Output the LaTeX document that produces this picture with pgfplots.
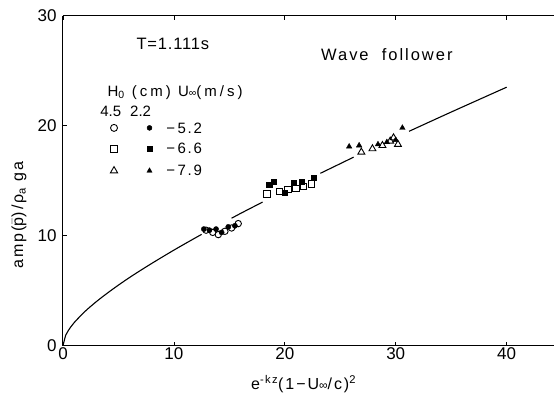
\documentclass[border=0pt]{standalone}
\usepackage{pgfplots}
\pgfplotsset{compat=1.18}
\usepackage{fontspec}
\setmainfont{Liberation Sans}
\newfontfamily\wide[LetterSpace=12]{Liberation Sans}
\newfontfamily\wider[LetterSpace=20]{Liberation Sans}
\newfontfamily\mildwide[LetterSpace=5]{Liberation Sans}
\begin{document}
\begin{tikzpicture}
\begin{axis}[name=ax, scale only axis, width=491pt, height=330pt,
  xmin=0, xmax=44.27, ymin=0, ymax=30,
  xtick={0,10,20,30,40}, ytick={0,10,20,30},
  axis y line*=left,
  axis line style={line width=1pt},
  major tick style={line width=0.8pt, black},
  major tick length=4pt,
  /pgf/number format/assume math mode=true,
  tick label style={font=\fontsize{17}{19}\selectfont},
  xticklabel style={yshift=2pt},
  yticklabel style={xshift=-3pt},
  xlabel={\wide e\textsuperscript{-kz}(1−U{\fontsize{12}{13}\selectfont ∞}/c)\textsuperscript{2}},
  ylabel={\wide amp($\bar{\hbox{p}}$)/ρ\textsubscript{a} ga},
  label style={font=\fontsize{16}{18}\selectfont},
  xlabel style={at={(axis description cs:0.49,0)}, anchor=base, yshift=-44pt},
  ylabel style={at={(axis description cs:0,0.396)}, anchor=center, yshift=44pt},
  clip=false,
]
% fitted curve, broken where the data points lie
\addplot[black, line width=1.1pt, no marks, smooth] coordinates {
(0,0) (0.25,0.97) (0.5,1.41) (1,2.09) (2,3.13) (3,4.00) (4,4.78) (5,5.51) (6,6.20) (7,6.85) (8,7.48) (9,8.09) (10,8.69) (11,9.27) (12,9.84) (12.5,10.12)};
\addplot[black, line width=1.1pt, no marks, smooth] coordinates {
(15.2,11.59) (16,12.02) (17,12.54) (18,13.06)};
\addplot[black, line width=1.1pt, no marks, smooth] coordinates {
(23.2,15.67) (24,16.06) (25,16.55) (26.2,17.14)};
\addplot[black, line width=1.1pt, no marks, smooth] coordinates {
(31.2,19.49) (35,21.24) (40,23.50)};
% H0 = 4.5 cm (open)
\addplot[only marks, mark=o, mark size=3.2pt, black, mark options={line width=0.9pt}] coordinates {
(12.9,10.5) (13.5,10.3) (14.0,10.1) (14.6,10.4) (15.2,10.7) (15.8,11.1)};
\addplot[only marks, mark=square, mark size=3.2pt, black, mark options={line width=0.9pt}] coordinates {
(18.4,13.8) (19.5,14.0) (20.3,14.2) (21.0,14.3) (21.7,14.5) (22.4,14.7)};
\addplot[only marks, mark=triangle, mark size=4pt, black, mark options={line width=0.9pt}] coordinates {
(26.9,17.6) (27.9,17.9) (28.8,18.2) (29.5,18.6) (30.2,18.3) (29.8,18.9)};
% H0 = 2.2 cm (filled)
\addplot[only marks, mark=*, mark size=2.6pt, black] coordinates {
(12.7,10.6) (13.2,10.5) (13.8,10.6) (14.3,10.3) (14.9,10.8) (15.5,10.9)};
\addplot[only marks, mark=square*, mark size=2.6pt, black] coordinates {
(18.6,14.6) (19.0,14.9) (20.0,13.9) (20.8,14.8) (21.5,14.9) (22.6,15.3)};
\addplot[only marks, mark=triangle*, mark size=3.2pt, black] coordinates {
(25.8,18.1) (26.7,18.2) (28.4,18.3) (29.2,18.5) (30.0,18.7) (30.6,19.8)};
% legend markers
\addplot[only marks, mark=o, mark size=3.5pt, black, mark options={line width=0.9pt}] coordinates {(4.6,19.8)};
\addplot[only marks, mark=square, mark size=3.5pt, black, mark options={line width=0.9pt}] coordinates {(4.6,17.9)};
\addplot[only marks, mark=triangle, mark size=4.2pt, black, mark options={line width=0.9pt}] coordinates {(4.6,15.9)};
\addplot[only marks, mark=*, mark size=2.5pt, black] coordinates {(7.8,19.8)};
\addplot[only marks, mark=square*, mark size=2.5pt, black] coordinates {(7.8,17.9)};
\addplot[only marks, mark=triangle*, mark size=3pt, black] coordinates {(7.8,15.9)};
\node[font=\mildwide\fontsize{16.5}{18}\selectfont] at (axis cs:9.9,27.4) {T=1.111s};
\node[font=\wide\fontsize{16.5}{18}\selectfont] at (axis cs:29.2,26.5) {Wave\ \ follower};
\node[font=\wider\fontsize{15}{16}\selectfont] at (axis cs:10.1,23.0) {H\textsubscript{0} (cm) U{\fontsize{10.5}{11}\selectfont ∞}(m/s)};
\node[font=\fontsize{15}{16}\selectfont] at (axis cs:4.3,21.3) {4.5};
\node[font=\fontsize{15}{16}\selectfont] at (axis cs:7.0,21.3) {2.2};
\node[font=\wide\fontsize{15}{16}\selectfont, anchor=west] at (axis cs:9.0,19.8) {−\,5.2};
\node[font=\wide\fontsize{15}{16}\selectfont, anchor=west] at (axis cs:9.0,17.9) {−\,6.6};
\node[font=\wide\fontsize{15}{16}\selectfont, anchor=west] at (axis cs:9.0,15.9) {−\,7.9};
\end{axis}
\pgfresetboundingbox
\path (ax.south west) ++(-63pt,-52.3pt) coordinate (bbsw);
\path (ax.north east) ++(0pt,15.7pt) coordinate (bbne);
\useasboundingbox (bbsw) rectangle (bbne);
\end{tikzpicture}
\end{document}
